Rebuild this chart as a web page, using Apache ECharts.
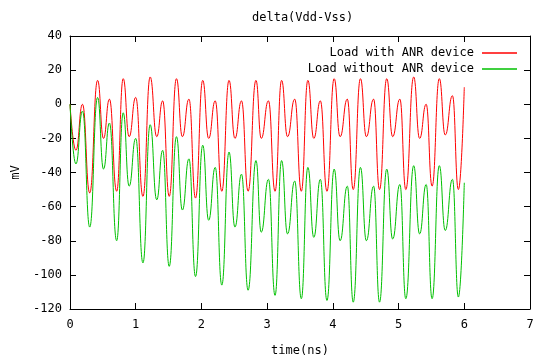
<!DOCTYPE html>
<html>
<head>
<meta charset="utf-8">
<script src="https://cdn.jsdelivr.net/npm/echarts@6/dist/echarts.min.js"></script>
<style>
  html, body { margin: 0; padding: 0; background: #fff; }
  #chart { width: 538px; height: 362px; }
</style>
</head>
<body>
<div id="chart"></div>
<script>
// extrema times (ns)
const timeNs = [0, 0.09, 0.19,
  0.30, 0.42, 0.51, 0.60, 0.71, 0.81, 0.90, 1.00, 1.11, 1.22, 1.32, 1.41,
  1.51, 1.62, 1.71, 1.81, 1.91, 2.02, 2.11, 2.21, 2.31, 2.42, 2.51, 2.61,
  2.71, 2.83, 2.91, 3.02, 3.12, 3.22, 3.31, 3.42, 3.52, 3.62, 3.71, 3.81,
  3.91, 4.02, 4.11, 4.22, 4.31, 4.42, 4.51, 4.62, 4.71, 4.82, 4.91, 5.02,
  5.11, 5.23, 5.32, 5.42, 5.51, 5.62, 5.71, 5.82, 5.91, 6.00];

// Load with ANR device (mV)
const withAnr = [0, -27, 0,
  -52, 14, -20, 3, -51, 15, -19, 4, -54, 16, -19, 2,
  -54, 15, -19, 3, -55, 14, -20, 2, -51, 14, -20, 2,
  -51, 14, -20, 2, -51, 14, -19, 3, -51, 14, -20, 2,
  -51, 15, -19, 3, -50, 15, -19, 3, -50, 15, -19, 3,
  -50, 16, -20, 0, -48, 15, -18, 5, -50, 10];

// Load without ANR device (mV)
const withoutAnr = [0, -35, -4,
  -72, 4, -38, -11, -80, -5, -48, -20, -93, -12, -56, -27,
  -95, -19, -62, -32, -101, -24, -68, -37, -106, -28, -72, -41,
  -109, -33, -75, -44, -112, -33, -76, -45, -114, -37, -78, -44,
  -115, -38, -80, -48, -116, -37, -80, -48, -116, -38, -79, -47,
  -114, -36, -76, -47, -114, -36, -74, -44, -113, -46];

const seriesNames = ["Load with ANR device", "Load without ANR device"];
const seriesColors = ["#ff0000", "#00c000"];

const mono = "DejaVu Sans Mono";
const chart = echarts.init(document.getElementById("chart"));

function pairs(ys) {
  return timeNs.map((t, i) => [t, ys[i]]);
}

const xBase = { type: "value", min: 0, max: 7, interval: 1, splitLine: { show: false } };
const yBase = { type: "value", min: -120, max: 40, interval: 20, splitLine: { show: false } };
const lineCol = { show: true, onZero: false, lineStyle: { color: "#000", width: 1 } };
const tickIn = { show: true, inside: true, length: 6, lineStyle: { color: "#000" } };

chart.setOption({
  animation: false,
  title: {
    text: "delta(Vdd-Vss)",
    left: 247,
    top: 7,
    textStyle: { fontFamily: mono, fontSize: 12, fontWeight: "normal", color: "#000" }
  },
  legend: {
    orient: "vertical",
    right: 16,
    top: 40,
    align: "right",
    icon: "rect",
    itemWidth: 35,
    itemHeight: 1.5,
    itemGap: 0,
    textStyle: { fontFamily: mono, fontSize: 12, color: "#000", lineHeight: 16, padding: [0, 3, 0, 0] },
    data: seriesNames
  },
  grid: { left: 70, right: 8, top: 36, bottom: 53 },
  xAxis: [
    Object.assign({}, xBase, {
      position: "bottom",
      name: "time(ns)",
      nameLocation: "middle",
      nameGap: 36,
      nameTextStyle: { fontFamily: mono, fontSize: 12, color: "#000" },
      axisLine: lineCol,
      axisTick: tickIn,
      axisLabel: { fontFamily: mono, fontSize: 12, color: "#000", margin: 10 }
    }),
    Object.assign({}, xBase, {
      position: "top",
      axisLine: lineCol,
      axisTick: tickIn,
      axisLabel: { show: false }
    })
  ],
  yAxis: [
    Object.assign({}, yBase, {
      position: "left",
      name: "mV",
      nameLocation: "middle",
      nameGap: 44,
      nameTextStyle: { fontFamily: mono, fontSize: 12, color: "#000" },
      axisLine: lineCol,
      axisTick: tickIn,
      axisLabel: { fontFamily: mono, fontSize: 12, color: "#000", margin: 8 }
    }),
    Object.assign({}, yBase, {
      position: "right",
      axisLine: lineCol,
      axisTick: tickIn,
      axisLabel: { show: false }
    })
  ],
  series: [
    {
      name: seriesNames[0],
      type: "line",
      xAxisIndex: 0,
      yAxisIndex: 0,
      data: pairs(withAnr),
      symbol: "none",
      smooth: 0.5,
      smoothMonotone: "x",
      color: seriesColors[0],
      lineStyle: { width: 1, color: seriesColors[0] }
    },
    {
      name: seriesNames[1],
      type: "line",
      xAxisIndex: 0,
      yAxisIndex: 0,
      data: pairs(withoutAnr),
      symbol: "none",
      smooth: 0.5,
      smoothMonotone: "x",
      color: seriesColors[1],
      lineStyle: { width: 1, color: seriesColors[1] }
    }
  ]
});
</script>
</body>
</html>
